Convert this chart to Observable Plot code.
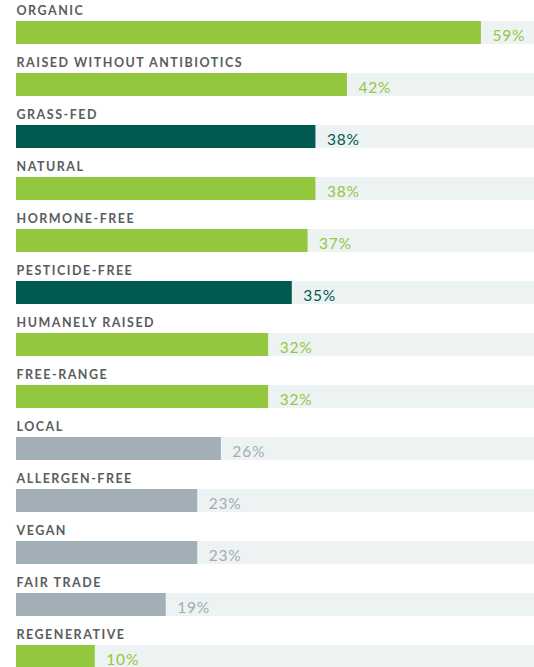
<!DOCTYPE html>
<html>
<head>
<meta charset="utf-8">
<script src="https://cdn.jsdelivr.net/npm/d3@7"></script>
<script src="https://cdn.jsdelivr.net/npm/@observablehq/plot@0.6"></script>
<style>
  html, body { margin: 0; padding: 0; background: #ffffff; overflow: hidden; }
  #chart svg { display: block; }
</style>
</head>
<body>
<div id="chart"></div>
<script>
const categories = ["ORGANIC", "RAISED WITHOUT ANTIBIOTICS", "GRASS-FED", "NATURAL", "HORMONE-FREE", "PESTICIDE-FREE", "HUMANELY RAISED", "FREE-RANGE", "LOCAL", "ALLERGEN-FREE", "VEGAN", "FAIR TRADE", "REGENERATIVE"];
const values = [59, 42, 38, 38, 37, 35, 32, 32, 26, 23, 23, 19, 10];
const groups = ["green", "green", "dark", "green", "green", "dark", "green", "green", "grey", "grey", "grey", "grey", "green"];
const groupNames = ["green", "dark", "grey"];
const barColors = ["#93c83e", "#005a50", "#a2afb6"];
const textColors = ["#93c83e", "#005a50", "#a2adb3"];
const trackMax = 65.74;

const data = categories.map((c, i) => ({ category: c, value: values[i], group: groups[i], track: trackMax }));
const textColor = d => textColors[groupNames.indexOf(d.group)];

const step = 52.17;
const pad = 0.55;
const y0 = 21;

const chart = Plot.plot({
  width: 534,
  height: 667,
  marginLeft: 16,
  marginRight: 0,
  marginTop: 0,
  marginBottom: 0,
  style: { fontFamily: "Lato, sans-serif", background: "#ffffff" },
  x: { domain: [0, trackMax], axis: null },
  y: { type: "band", domain: categories, range: [y0, y0 + step * (categories.length - pad)], paddingInner: pad, paddingOuter: 0, align: 0, axis: null },
  color: { domain: groupNames, range: barColors },
  marks: [
    Plot.barX(data, { x: "track", y: "category", fill: "#edf2f3" }),
    Plot.barX(data, { x: "value", y: "category", fill: "group" }),
    Plot.text(data, {
      x: 0, y: "category", text: "category", textAnchor: "start", lineAnchor: "middle",
      dy: -22, fontSize: 12.5, fontWeight: 700, fill: "#585d60",
      className: "cat-label"
    }),
    Plot.text(data, {
      x: "value", y: "category", text: d => d.value + "%", textAnchor: "start", lineAnchor: "middle",
      dx: 11, dy: 3, fontSize: 15.5, fontWeight: d => d.group === "dark" ? 700 : 500,
      fill: textColor, className: "pct-label"
    })
  ]
});
chart.querySelectorAll(".cat-label text").forEach(t => { t.style.letterSpacing = "1.5px"; });
chart.querySelectorAll(".pct-label text").forEach(t => { t.style.letterSpacing = "0.8px"; });
document.getElementById("chart").appendChild(chart);
</script>
</body>
</html>
